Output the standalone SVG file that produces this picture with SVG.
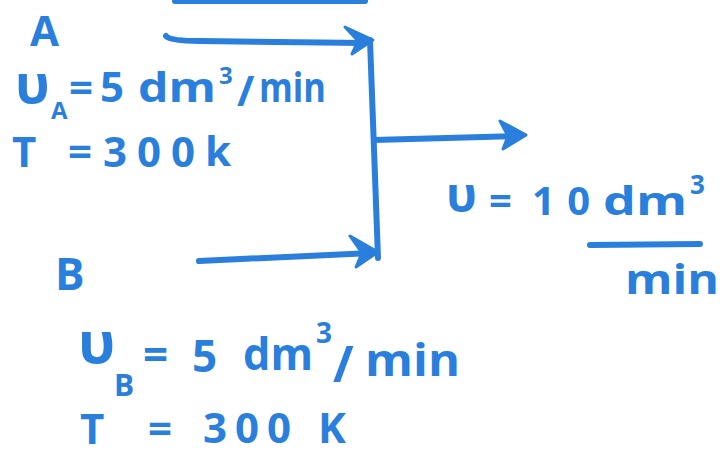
<svg xmlns="http://www.w3.org/2000/svg" width="725" height="455" viewBox="0 0 725 455">
<style>
.ln{stroke:#2a7fdc;stroke-width:6;fill:none;stroke-linecap:round;stroke-linejoin:round}
.hd{fill:#2a7fdc;stroke:#2a7fdc;stroke-width:3;stroke-linejoin:round}
.t{font-family:"Open Sans","DejaVu Sans",sans-serif;font-weight:700;fill:#2a7fdc}
</style>
<rect width="725" height="455" fill="#ffffff"/>
<g id="connectors">
<path class="ln" d="M175 1 L365 1" stroke-width="4"/>
<path class="ln" d="M166 36 Q170 41 200 41 L365 43"/>
<path class="hd" d="M345 27 L373 40 L352 54 L358 41 Z"/>
<path class="ln" d="M370 40 L378 258"/>
<path class="ln" d="M374 140 L515 136"/>
<path class="hd" d="M500 121 L526 135 L503 149 L508 136 Z"/>
<path class="ln" d="M199 261 L372 253"/>
<path class="hd" d="M350 236 L378 252 L356 267 L362 253 Z"/>
<path class="ln" d="M590 245 L700 244" stroke-width="5"/>
</g>
<g id="stream-A">
<text class="t" x="30" y="46" font-size="42">A</text>
<text class="t" font-size="42"><tspan x="15" y="103" font-size="54">υ</tspan><tspan x="51" y="119" font-size="24">A</tspan><tspan x="69" y="102">=</tspan><tspan x="100" y="102">5</tspan><tspan x="138" y="102" textLength="78" lengthAdjust="spacingAndGlyphs">dm</tspan><tspan x="219" y="84" font-size="24">3</tspan><tspan x="237" y="106">/</tspan><tspan x="259" y="102" textLength="67" lengthAdjust="spacingAndGlyphs">min</tspan></text>
<text class="t" font-size="42"><tspan x="12" y="167">T</tspan><tspan x="68" y="166">=</tspan><tspan x="103" y="167" textLength="92" lengthAdjust="spacing">300</tspan><tspan x="205" y="166">k</tspan></text>
</g>
<g id="stream-B">
<text class="t" x="55" y="290" font-size="44">B</text>
<text class="t" font-size="44"><tspan x="78" y="363" font-size="58">υ</tspan><tspan x="114" y="396" font-size="30">B</tspan><tspan x="143" y="370">=</tspan><tspan x="192" y="372">5</tspan><tspan x="243" y="370" textLength="70" lengthAdjust="spacingAndGlyphs">dm</tspan><tspan x="316" y="343" font-size="28">3</tspan><tspan x="333" y="382" font-size="50">/</tspan><tspan x="365" y="376" textLength="95" lengthAdjust="spacingAndGlyphs">min</tspan></text>
<text class="t" font-size="42"><tspan x="80" y="444">T</tspan><tspan x="148" y="443">=</tspan><tspan x="203" y="443" textLength="88" lengthAdjust="spacing">300</tspan><tspan x="318" y="443">K</tspan></text>
</g>
<g id="outlet">
<text class="t" font-size="40"><tspan x="446" y="212" font-size="48">υ</tspan><tspan x="489" y="215">=</tspan><tspan x="532" y="215" textLength="58" lengthAdjust="spacing">10</tspan><tspan x="603" y="215" textLength="84" lengthAdjust="spacingAndGlyphs">dm</tspan><tspan x="690" y="194" font-size="26">3</tspan></text>
<text class="t" x="625" y="294" font-size="42" textLength="94" lengthAdjust="spacingAndGlyphs">min</text>
</g>
</svg>
